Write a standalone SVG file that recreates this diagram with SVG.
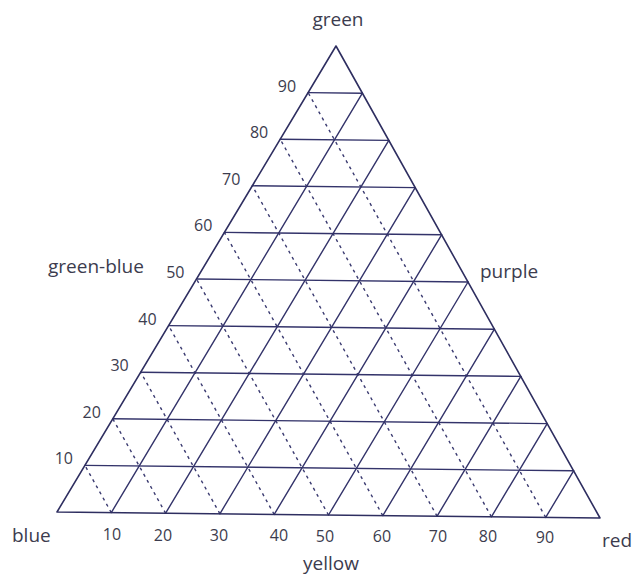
<svg xmlns="http://www.w3.org/2000/svg" width="632" height="575" viewBox="0 0 632 575">
<style>
.ln{stroke:#33336a;stroke-width:1.4;fill:none;stroke-linecap:round}
.dt{stroke:#3a3a70;stroke-width:1.4;fill:none;stroke-dasharray:3 4}
.ed{stroke:#2e2e60;stroke-width:1.6;fill:none;stroke-linejoin:round}
.w{font-family:"Open Sans","Noto Sans","DejaVu Sans",sans-serif;font-size:19px;fill:#3c3c4e}
.n{font-family:"Open Sans","Noto Sans","DejaVu Sans",sans-serif;font-size:16px;fill:#3c3c4e}
.l{text-anchor:end}
.m{text-anchor:middle}
</style>
<rect width="632" height="575" fill="#ffffff"/>
<g id="grid-dotted">
<line class="dt" x1="111.3" y1="512.6" x2="84.9" y2="465.4"/>
<line class="dt" x1="165.6" y1="513.2" x2="112.8" y2="418.8"/>
<line class="dt" x1="219.9" y1="513.8" x2="140.7" y2="372.2"/>
<line class="dt" x1="274.2" y1="514.4" x2="168.6" y2="325.6"/>
<line class="dt" x1="328.5" y1="515" x2="196.5" y2="279"/>
<line class="dt" x1="382.8" y1="515.6" x2="224.4" y2="232.4"/>
<line class="dt" x1="437.1" y1="516.2" x2="252.3" y2="185.8"/>
<line class="dt" x1="491.4" y1="516.8" x2="280.2" y2="139.2"/>
<line class="dt" x1="545.7" y1="517.4" x2="308.1" y2="92.6"/>
</g>
<g id="grid-horizontal">
<line class="ln" x1="84.9" y1="465.4" x2="573.6" y2="470.8"/>
<line class="ln" x1="112.8" y1="418.8" x2="547.2" y2="423.6"/>
<line class="ln" x1="140.7" y1="372.2" x2="520.8" y2="376.4"/>
<line class="ln" x1="168.6" y1="325.6" x2="494.4" y2="329.2"/>
<line class="ln" x1="196.5" y1="279" x2="468" y2="282"/>
<line class="ln" x1="224.4" y1="232.4" x2="441.6" y2="234.8"/>
<line class="ln" x1="252.3" y1="185.8" x2="415.2" y2="187.6"/>
<line class="ln" x1="280.2" y1="139.2" x2="388.8" y2="140.4"/>
<line class="ln" x1="308.1" y1="92.6" x2="362.4" y2="93.2"/>
</g>
<g id="grid-slanted">
<line class="ln" x1="111.3" y1="512.6" x2="362.4" y2="93.2"/>
<line class="ln" x1="165.6" y1="513.2" x2="388.8" y2="140.4"/>
<line class="ln" x1="219.9" y1="513.8" x2="415.2" y2="187.6"/>
<line class="ln" x1="274.2" y1="514.4" x2="441.6" y2="234.8"/>
<line class="ln" x1="328.5" y1="515" x2="468" y2="282"/>
<line class="ln" x1="382.8" y1="515.6" x2="494.4" y2="329.2"/>
<line class="ln" x1="437.1" y1="516.2" x2="520.8" y2="376.4"/>
<line class="ln" x1="491.4" y1="516.8" x2="547.2" y2="423.6"/>
<line class="ln" x1="545.7" y1="517.4" x2="573.6" y2="470.8"/>
</g>
<g id="triangle">
<polygon class="ed" points="336,46 57,512 600,518"/>
</g>
<g id="left-scale">
<text class="n l" x="73" y="464.4">10</text>
<text class="n l" x="100.8" y="417.8">20</text>
<text class="n l" x="128.7" y="371.2">30</text>
<text class="n l" x="156.6" y="324.6">40</text>
<text class="n l" x="184.5" y="278">50</text>
<text class="n l" x="212.4" y="231.4">60</text>
<text class="n l" x="240.3" y="184.8">70</text>
<text class="n l" x="268.2" y="138.2">80</text>
<text class="n l" x="296.1" y="91.6">90</text>
</g>
<g id="bottom-scale">
<text class="n m" x="112" y="540.3">10</text>
<text class="n m" x="163" y="540.6">20</text>
<text class="n m" x="219" y="540.9">30</text>
<text class="n m" x="279" y="541.2">40</text>
<text class="n m" x="325" y="541.5">50</text>
<text class="n m" x="382" y="541.8">60</text>
<text class="n m" x="438" y="542.1">70</text>
<text class="n m" x="488" y="542.4">80</text>
<text class="n m" x="545" y="542.7">90</text>
</g>
<g id="labels">
<text class="w m" x="338" y="26">green</text>
<text class="w" x="48" y="273">green-blue</text>
<text class="w" x="480" y="278">purple</text>
<text class="w" x="12" y="542">blue</text>
<text class="w m" x="331" y="570">yellow</text>
<text class="w" x="602" y="547">red</text>
</g>
</svg>
